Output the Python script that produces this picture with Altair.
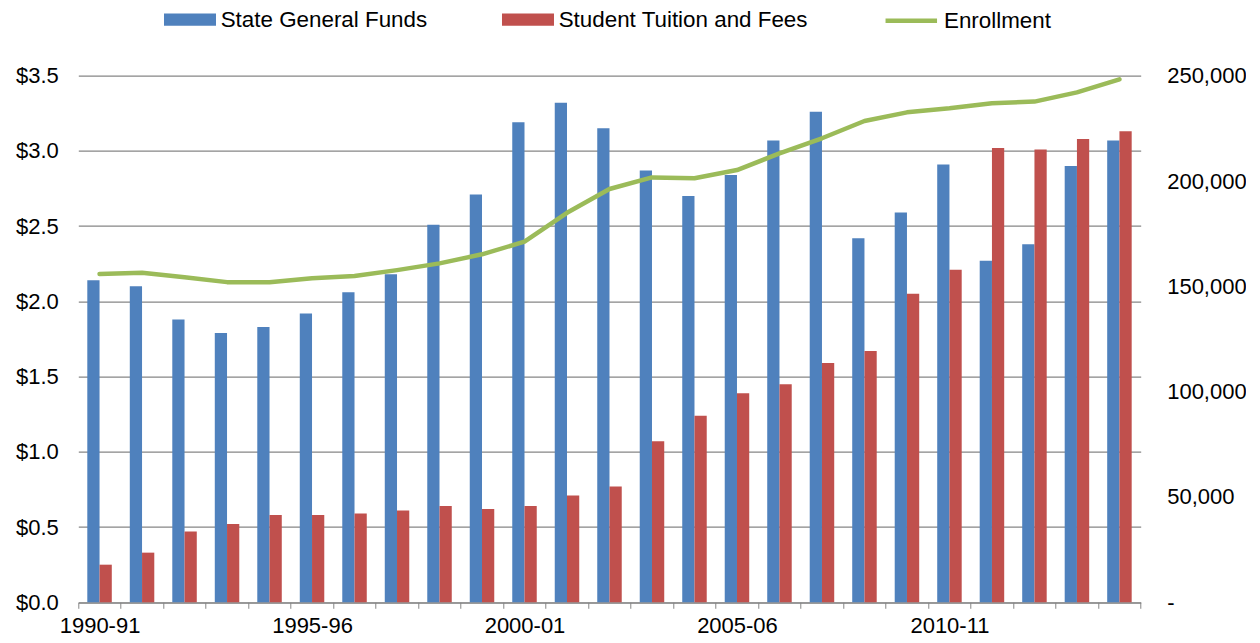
import altair as alt
import pandas as pd

years = ["1990-91", "1991-92", "1992-93", "1993-94", "1994-95", "1995-96", "1996-97",
         "1997-98", "1998-99", "1999-00", "2000-01", "2001-02", "2002-03", "2003-04",
         "2004-05", "2005-06", "2006-07", "2007-08", "2008-09", "2009-10", "2010-11",
         "2011-12", "2012-13", "2013-14", "2014-15"]
shown_labels = ["1990-91", "1995-96", "2000-01", "2005-06", "2010-11"]

state_funds = [2.14, 2.10, 1.88, 1.79, 1.83, 1.92, 2.06, 2.18, 2.51, 2.71, 3.19, 3.32, 3.15,
               2.87, 2.70, 2.84, 3.07, 3.26, 2.42, 2.59, 2.91, 2.27, 2.38, 2.90, 3.07]
tuition = [0.25, 0.33, 0.47, 0.52, 0.58, 0.58, 0.59, 0.61, 0.64, 0.62, 0.64, 0.71, 0.77,
           1.07, 1.24, 1.39, 1.45, 1.59, 1.67, 2.05, 2.21, 3.02, 3.01, 3.08, 3.13]
enrollment = [155900, 156500, 154300, 152000, 151900, 153800, 154900, 157700, 160900,
              165200, 171200, 184900, 196200, 201700, 201300, 205200, 213100, 220300,
              228500, 232600, 234500, 236900, 237700, 242100, 248300]

series_names = ["State General Funds", "Student Tuition and Fees"]
bar_colors = ["#4F81BD", "#C0504D"]
line_name = "Enrollment"
line_color = "#9BBB59"

rows = []
for i, y in enumerate(years):
    rows.append({"year": y, "series": series_names[0], "value": state_funds[i]})
    rows.append({"year": y, "series": series_names[1], "value": tuition[i]})
df_bars = pd.DataFrame(rows)
df_line = pd.DataFrame({"year": years, "enrollment": enrollment, "label": line_name})

FONT = "Liberation Sans"
GRID = "#868686"

label_expr = "indexof(" + str(shown_labels) + ", datum.value) >= 0 ? datum.label : ''"

x_enc = alt.X(
    "year:N", sort=years,
    scale=alt.Scale(paddingInner=0, paddingOuter=0),
    axis=alt.Axis(title=None, labelAngle=0, tickBand="extent", labelExpr=label_expr,
                  labelOverlap=False, domainColor=GRID, tickColor=GRID, tickSize=6,
                  labelFont=FONT, labelFontSize=22, labelColor="black", labelPadding=7,
                  grid=False),
)

bars = alt.Chart(df_bars).mark_bar().encode(
    x=x_enc,
    xOffset=alt.XOffset("series:N", sort=series_names,
                        scale=alt.Scale(paddingInner=0, paddingOuter=0.735)),
    y=alt.Y("value:Q", scale=alt.Scale(domain=[0, 3.5]),
            axis=alt.Axis(title=None, values=[0, 0.5, 1.0, 1.5, 2.0, 2.5, 3.0, 3.5],
                          format="$.1f", grid=True, gridColor=GRID, gridWidth=1.2,
                          domain=False, ticks=False, labelPadding=20, labelFont=FONT,
                          labelFontSize=22, labelColor="black")),
    color=alt.Color("series:N",
                    scale=alt.Scale(domain=series_names, range=bar_colors),
                    legend=alt.Legend(title=None, orient="none", legendX=85.7, legendY=-82.4,
                                      direction="horizontal",
                                      symbolType="M-1,-0.237L1,-0.237L1,0.237L-1,0.237Z",
                                      symbolSize=2704, symbolStrokeWidth=0,
                                      labelFont=FONT, labelFontSize=22.4, labelLimit=600,
                                      labelColor="black", labelOffset=4.7,
                                      columnPadding=74, padding=0)),
)

line = alt.Chart(df_line).mark_line(strokeWidth=4.5, strokeJoin="round", strokeCap="round").encode(
    x=alt.X("year:N", sort=years),
    y=alt.Y("enrollment:Q", scale=alt.Scale(domain=[0, 250000]),
            axis=alt.Axis(title=None, orient="right",
                          values=[0, 50000, 100000, 150000, 200000, 250000],
                          labelExpr="datum.value == 0 ? '-' : format(datum.value, ',')",
                          grid=False, domain=False, ticks=False, labelPadding=26,
                          labelFont=FONT, labelFontSize=22, labelColor="black")),
    stroke=alt.Stroke("label:N",
                      scale=alt.Scale(domain=[line_name], range=[line_color]),
                      legend=alt.Legend(title=None, orient="none", legendX=805, legendY=-82.9,
                                        direction="horizontal", symbolType="stroke",
                                        symbolSize=2652, symbolStrokeWidth=4.5,
                                        labelFont=FONT, labelFontSize=22.4, labelLimit=600,
                                        labelColor="black", labelOffset=4.7, padding=0)),
)

chart = alt.layer(bars, line).resolve_scale(y="independent").properties(
    width=1062.4, height=526.6,
    autosize=alt.AutoSizeParams(type="none"),
    padding={"left": 70.3, "top": 67.7, "right": 105, "bottom": 35},
).configure_view(strokeWidth=0)

chart.save("out.html", embed_options={"renderer": "svg", "actions": False})
